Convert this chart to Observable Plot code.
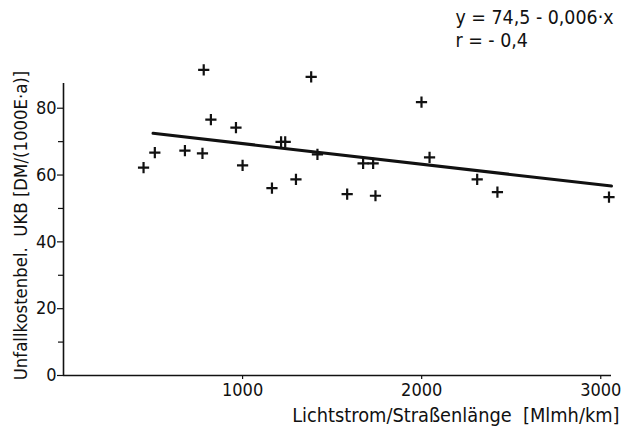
<!DOCTYPE html>
<html>
<head>
<meta charset="utf-8">
<script src="https://cdn.jsdelivr.net/npm/d3@7"></script>
<script src="https://cdn.jsdelivr.net/npm/@observablehq/plot@0.6"></script>
<style>
  html, body { margin: 0; padding: 0; background: #fff; }
  #chart { width: 623px; height: 430px; }
</style>
</head>
<body>
<div id="chart"></div>
<script>
// Data
const lichtstrom = [447, 510, 678, 776, 783, 823, 963, 1000, 1164, 1215, 1238, 1298, 1383, 1418, 1584, 1673, 1729, 1742, 1999, 2044, 2310, 2423, 3046];
const ukb = [62.2, 66.7, 67.3, 66.5, 91.5, 76.6, 74.2, 62.9, 56.1, 69.9, 69.9, 58.7, 89.4, 66.2, 54.3, 63.5, 63.5, 53.8, 81.8, 65.3, 58.7, 54.9, 53.4];

// Regression line as drawn
const fitX = [500, 3060];
const fitY = [72.5, 56.7];

const yMajorTicks = [0, 20, 40, 60, 80];
const yMinorTicks = [10, 30, 50, 70];
const xTicks = [1000, 2000, 3000];

const equationText = "y = 74,5 - 0,006·x";
const rText = "r = - 0,4";
const xLabel = "Lichtstrom/Straßenlänge  [Mlmh/km]";
const yLabel = "Unfallkostenbel.  UKB [DM/(1000E·a)]";

const points = lichtstrom.map((x, i) => ({x, y: ukb[i]}));
const fit = fitX.map((x, i) => ({x, y: fitY[i]}));

const FONT = "'DejaVu Sans Condensed', 'Liberation Sans Narrow', sans-serif";

const chart = Plot.plot({
  width: 623,
  height: 430,
  marginLeft: 63,
  marginRight: 12,
  marginTop: 83,
  marginBottom: 55,
  style: {fontFamily: FONT, fontSize: "17px", color: "#111", background: "#fff"},
  x: {domain: [0, 3060]},
  y: {domain: [0, 87.4]},
  marks: [
    Plot.axisY({ticks: yMajorTicks, tickSize: 6, tickPadding: 1, tickFormat: d => String(d), label: null, fontSize: 18, strokeWidth: 1.2}),
    Plot.axisY({ticks: yMinorTicks, tickSize: 5, tickFormat: () => "", label: null, strokeWidth: 1.2}),
    Plot.axisX({ticks: xTicks, tickSize: 4, tickPadding: 4, tickFormat: d => String(d), label: null, fontSize: 18, strokeWidth: 1.2}),
    Plot.ruleY([0], {x1: 0, x2: 3060, strokeWidth: 1.6, stroke: "#111"}),
    Plot.ruleX([0], {y1: 0, y2: 87.4, strokeWidth: 1.6, stroke: "#111"}),
    Plot.line(fit, {x: "x", y: "y", stroke: "#111", strokeWidth: 3}),
    Plot.dot(points, {x: "x", y: "y", symbol: "plus", r: 3.7, stroke: "#111", strokeWidth: 2.2}),
    Plot.text([xLabel], {text: d => d, frameAnchor: "bottom-right", textAnchor: "end", lineAnchor: "middle", dx: 8, dy: 40, fontSize: 19.8, fill: "#111"}),
    Plot.text([yLabel], {text: d => d, frameAnchor: "left", rotate: -90, textAnchor: "middle", lineAnchor: "middle", dx: -42, dy: -4, fontSize: 18.4, fill: "#111"}),
    Plot.text([equationText], {text: d => d, frameAnchor: "top-left", textAnchor: "start", lineAnchor: "middle", dx: 392, dy: -66, fontSize: 19.4, fill: "#111"}),
    Plot.text([rText], {text: d => d, frameAnchor: "top-left", textAnchor: "start", lineAnchor: "middle", dx: 392, dy: -43, fontSize: 19.4, fill: "#111"})
  ]
});
document.getElementById("chart").appendChild(chart);
</script>
</body>
</html>
